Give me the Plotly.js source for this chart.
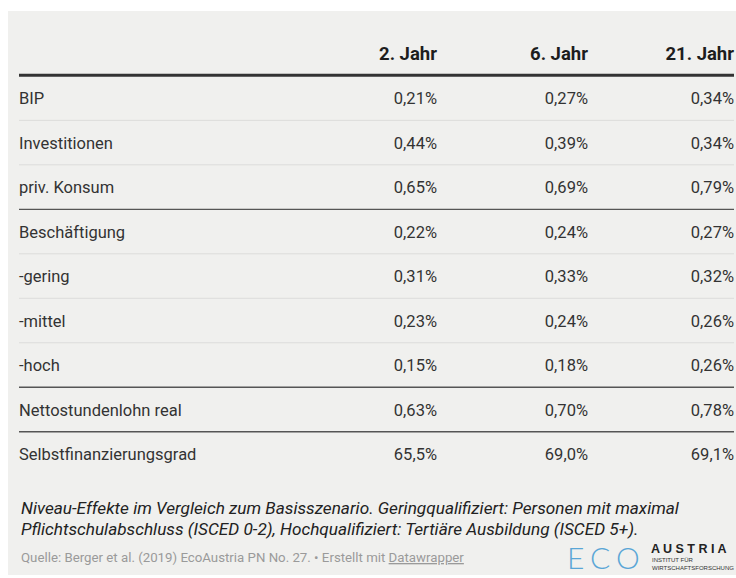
<!DOCTYPE html>
<html>
<head>
<meta charset="utf-8">
<script src="https://cdn.plot.ly/plotly-3.0.1.min.js"></script>
<style>html,body{margin:0;padding:0;background:#fff;}#chart{width:736px;height:578px;}</style>
</head>
<body>
<div id="chart"></div>
<script>
// ---- data ----
const columns = ["2. Jahr", "6. Jahr", "21. Jahr"];
const rowLabels = ["BIP", "Investitionen", "priv. Konsum", "Beschäftigung", "-gering", "-mittel", "-hoch", "Nettostundenlohn real", "Selbstfinanzierungsgrad"];
const jahr2  = [0.21, 0.44, 0.65, 0.22, 0.31, 0.23, 0.15, 0.63, 65.5];
const jahr6  = [0.27, 0.39, 0.69, 0.24, 0.33, 0.24, 0.18, 0.70, 69.0];
const jahr21 = [0.34, 0.34, 0.79, 0.27, 0.32, 0.26, 0.26, 0.78, 69.1];
const units  = ["%", "%", "%", "%", "%", "%", "%", "%", "%"];
const decimals = [2, 2, 2, 2, 2, 2, 2, 2, 1];
const groupEnds = [2, 6, 7]; // rows after which a dark separator is drawn
const notesLines = [
  "Niveau-Effekte im Vergleich zum Basisszenario. Geringqualifiziert: Personen mit maximal",
  "Pflichtschulabschluss (ISCED 0-2), Hochqualifiziert: Tertiäre Ausbildung (ISCED 5+)."
];
const source = "Quelle: Berger et al. (2019) EcoAustria PN No. 27. • Erstellt mit <span style=\"text-decoration:underline\">Datawrapper</span>";

// ---- layout helpers ----
const fmt = (v, i) => v.toFixed(decimals[i]).replace('.', ',') + units[i];
const textShift = 0.03;
const rowIdx = rowLabels.map((_, i) => i);
const colRight = [437, 588, 734];
const labelX = 19;
const lineX0 = 19, lineX1 = 734;
const bodyFont = {family: "Roboto, Liberation Sans, sans-serif", size: 16.5, color: "#333333"};
const headFont = {family: "Roboto, Liberation Sans, sans-serif", size: 18.5, color: "#1d1d1d", weight: 700};
const noteFont = {family: "Roboto, Liberation Sans, sans-serif", size: 17.2, color: "#222222"};

const valueCols = [jahr2, jahr6, jahr21];
const traces = [];
traces.push({
  type: "scatter", mode: "text", x: rowIdx.map(() => labelX), y: rowIdx.map(i => i + textShift),
  text: rowLabels, textposition: "middle right", textfont: bodyFont,
  hoverinfo: "skip", cliponaxis: false, showlegend: false
});
valueCols.forEach((vals, c) => {
  traces.push({
    type: "scatter", mode: "text", x: rowIdx.map(() => colRight[c]), y: rowIdx.map(i => i + textShift),
    text: vals.map((v, i) => fmt(v, i)), textposition: "middle left", textfont: bodyFont,
    hoverinfo: "skip", cliponaxis: false, showlegend: false
  });
});
traces.push({
  type: "scatter", mode: "text", x: colRight, y: columns.map(() => -0.97),
  text: columns, textposition: "middle left", textfont: headFont,
  hoverinfo: "skip", cliponaxis: false, showlegend: false
});

const shapes = [];
shapes.push({type: "line", xref: "x", yref: "y", x0: lineX0, x1: lineX1, y0: -0.535, y1: -0.535, line: {color: "#333333", width: 3}});
for (let i = 0; i < rowLabels.length - 1; i++) {
  const dark = groupEnds.includes(i);
  shapes.push({type: "line", xref: "x", yref: "y", x0: lineX0, x1: lineX1, y0: i + 0.48, y1: i + 0.48,
    line: {color: dark ? "#555555" : "#dcdcda", width: dark ? 1.3 : 1}});
}

const annotations = [
  {xref: "x", yref: "y", x: labelX, y: 9.2, xanchor: "left", yanchor: "middle", align: "left", showarrow: false,
   text: "<i>" + notesLines[0] + "</i>", font: noteFont},
  {xref: "x", yref: "y", x: labelX, y: 9.66, xanchor: "left", yanchor: "middle", align: "left", showarrow: false,
   text: "<i>" + notesLines[1] + "</i>", font: noteFont},
  {xref: "x", yref: "y", x: labelX, y: 10.3, xanchor: "left", yanchor: "middle", showarrow: false,
   text: source, font: {family: "Roboto, Liberation Sans, sans-serif", size: 13.25, color: "#9a9a9a"}},
  {xref: "x", yref: "y", x: 603.5, y: 10.3, xanchor: "center", yanchor: "middle", showarrow: false,
   text: "E\u2009\u200aC\u2009\u200aO", font: {family: "Lato, DejaVu Sans, sans-serif", size: 30, color: "#5aa6d6", weight: 300}},
  {xref: "x", yref: "y", x: 649, y: 10.12, xanchor: "left", yanchor: "middle", showarrow: false,
   text: "A U S T R I A", font: {family: "Liberation Sans, sans-serif", size: 12.5, color: "#222222", weight: 700}},
  {xref: "x", yref: "y", x: 650, y: 10.46, xanchor: "left", yanchor: "middle", showarrow: false, align: "left",
   text: "INSTITUT FÜR<br>WIRTSCHAFTSFORSCHUNG", font: {family: "Liberation Sans, sans-serif", size: 6, color: "#333333"}}
];

const layout = {
  width: 736, height: 578,
  margin: {l: 8, r: 0, t: 11, b: 3, pad: 0},
  paper_bgcolor: "#ffffff", plot_bgcolor: "#f0f0ee",
  xaxis: {range: [8, 736], visible: false, fixedrange: true},
  yaxis: {range: [10.70, -1.978], visible: false, fixedrange: true},
  shapes: shapes, annotations: annotations, showlegend: false
};
Plotly.newPlot("chart", traces, layout, {displayModeBar: false, staticPlot: true});
</script>
</body>
</html>
